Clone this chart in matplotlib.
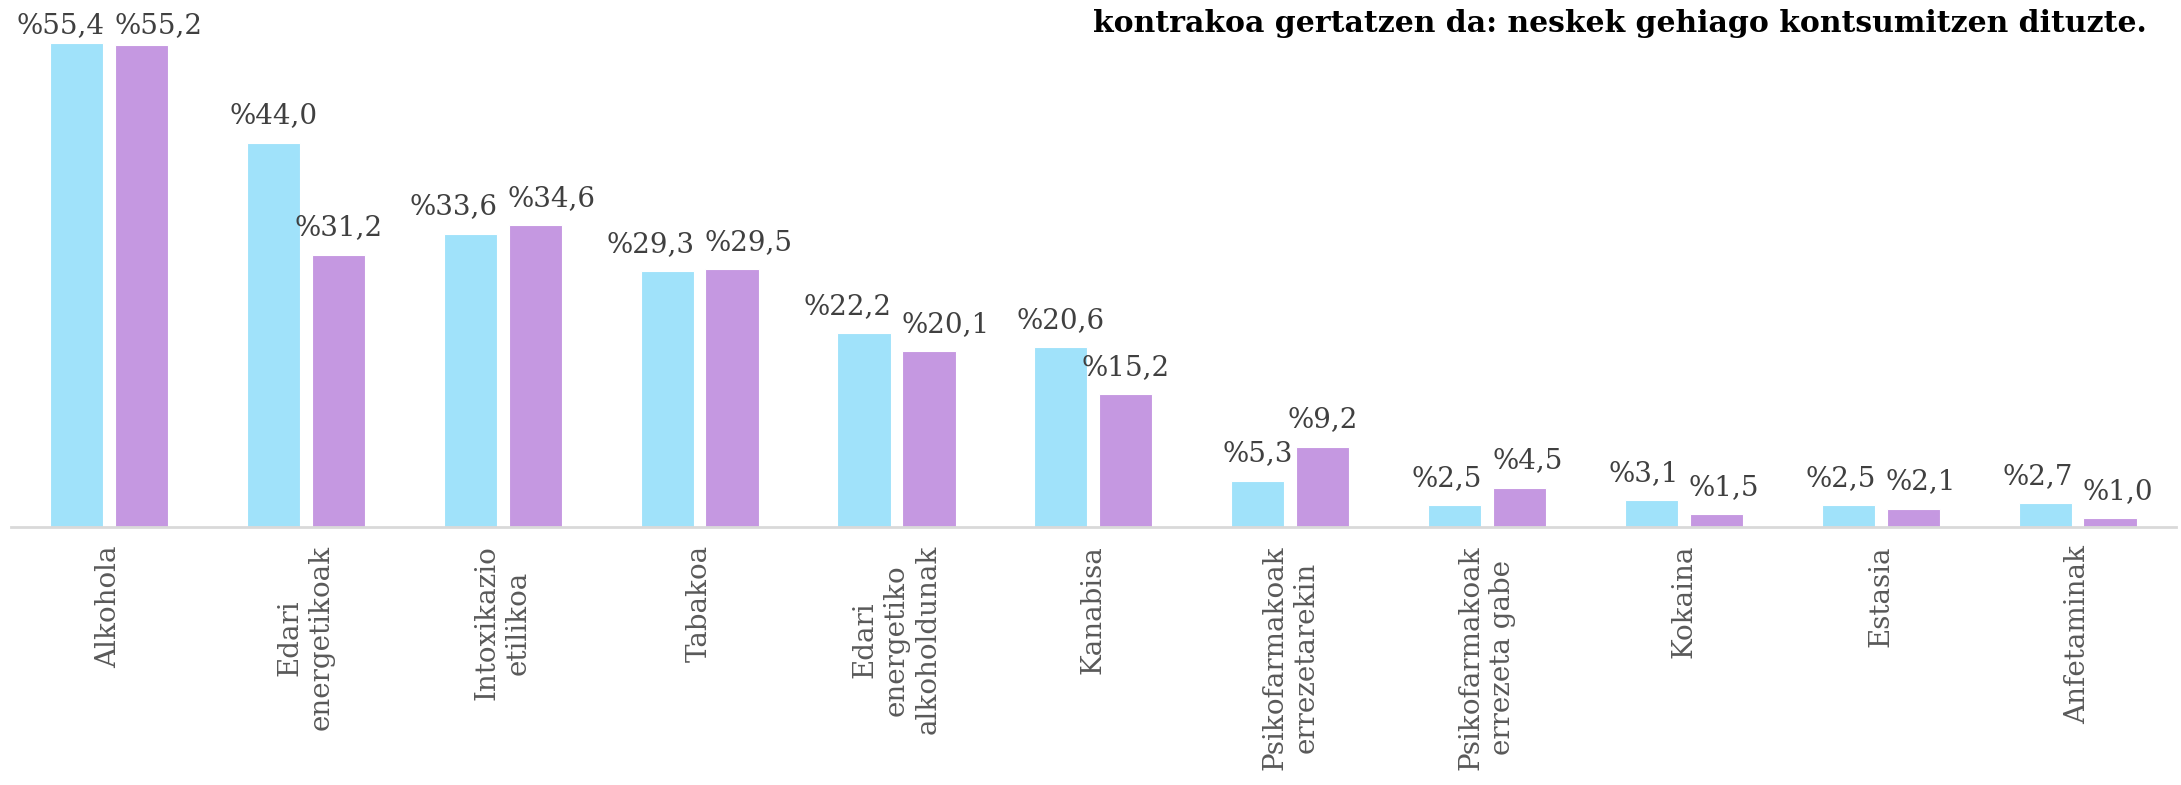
import matplotlib
matplotlib.use("Agg")
import matplotlib.pyplot as plt
import numpy as np

categories = [
    "Alkohola",
    "Edari\nenergetikoak",
    "Intoxikazio\netilikoa",
    "Tabakoa",
    "Edari\nenergetiko\nalkoholdunak",
    "Kanabisa",
    "Psikofarmakoak\nerrezetarekin",
    "Psikofarmakoak\nerrezeta gabe",
    "Kokaina",
    "Estasia",
    "Anfetaminak",
]
mutilak = [55.4, 44.0, 33.6, 29.3, 22.2, 20.6, 5.3, 2.5, 3.1, 2.5, 2.7]
neskak = [55.2, 31.2, 34.6, 29.5, 20.1, 15.2, 9.2, 4.5, 1.5, 2.1, 1.0]
title_text = "kontrakoa gertatzen da: neskek gehiago kontsumitzen dituzte."

BLUE = "#A0E2FA"
PURPLE = "#C598E1"
W, H = 2181, 785
DPI = 100

fig = plt.figure(figsize=(W / DPI, H / DPI), dpi=DPI)
ax = fig.add_axes([10.6 / W, (H - 527) / H, (2176 - 10.6) / W, 524 / H])

x = np.arange(len(categories))
bw = 0.27
off = 0.165
ax.bar(x - off, mutilak, bw, color=BLUE, edgecolor="white", linewidth=0.8, zorder=2)
ax.bar(x + off, neskak, bw, color=PURPLE, edgecolor="white", linewidth=0.8, zorder=2)

ax.set_xlim(-0.5, len(categories) - 0.5)
ax.set_ylim(0, 60)

PAD = 2.2
CEIL = 56.6


def fmt(v):
    return "%" + f"{v:.1f}".replace(".", ",")


pairs = []
for i in range(len(categories)):
    pair = []
    for xi, v in ((x[i] - off, mutilak[i]), (x[i] + off, neskak[i])):
        ann = ax.annotate(fmt(v), xy=(xi, min(v + PAD, CEIL)), xytext=(0, 0),
                          textcoords="offset pixels", ha="center", va="baseline",
                          fontsize=20, family="DejaVu Serif", color="#404040",
                          zorder=3)
        pair.append(ann)
    pairs.append(pair)

for s in ("top", "right", "left"):
    ax.spines[s].set_visible(False)
ax.spines["bottom"].set_color("#D9D9D9")
ax.spines["bottom"].set_linewidth(2)
ax.set_yticks([])
ax.set_xticks(x)
ax.set_xticklabels(categories, rotation=90, fontsize=20, family="DejaVu Serif",
                   color="#595959", ha="center", va="top", multialignment="center",
                   linespacing=1.2)
ax.tick_params(axis="x", length=0, pad=13)

fig.text(2147 / W, 1 - 32 / H, title_text, ha="right", va="baseline",
         fontsize=21.5, family="DejaVu Serif", weight="bold", color="#000000")

# push apart neighbouring value labels that would collide
fig.canvas.draw()
renderer = fig.canvas.get_renderer()
MIN_GAP = 10
for a, b in pairs:
    ea = a.get_window_extent(renderer)
    eb = b.get_window_extent(renderer)
    ya = ax.transData.transform(a.xy)[1]
    yb = ax.transData.transform(b.xy)[1]
    if abs(ya - yb) < 19:
        gap = eb.x0 - ea.x1
        if gap < MIN_GAP:
            d = (MIN_GAP - gap) / 2
            a.xyann = (-d, 0)
            b.xyann = (d, 0)

fig.savefig("out.png", dpi=DPI, facecolor="white")
